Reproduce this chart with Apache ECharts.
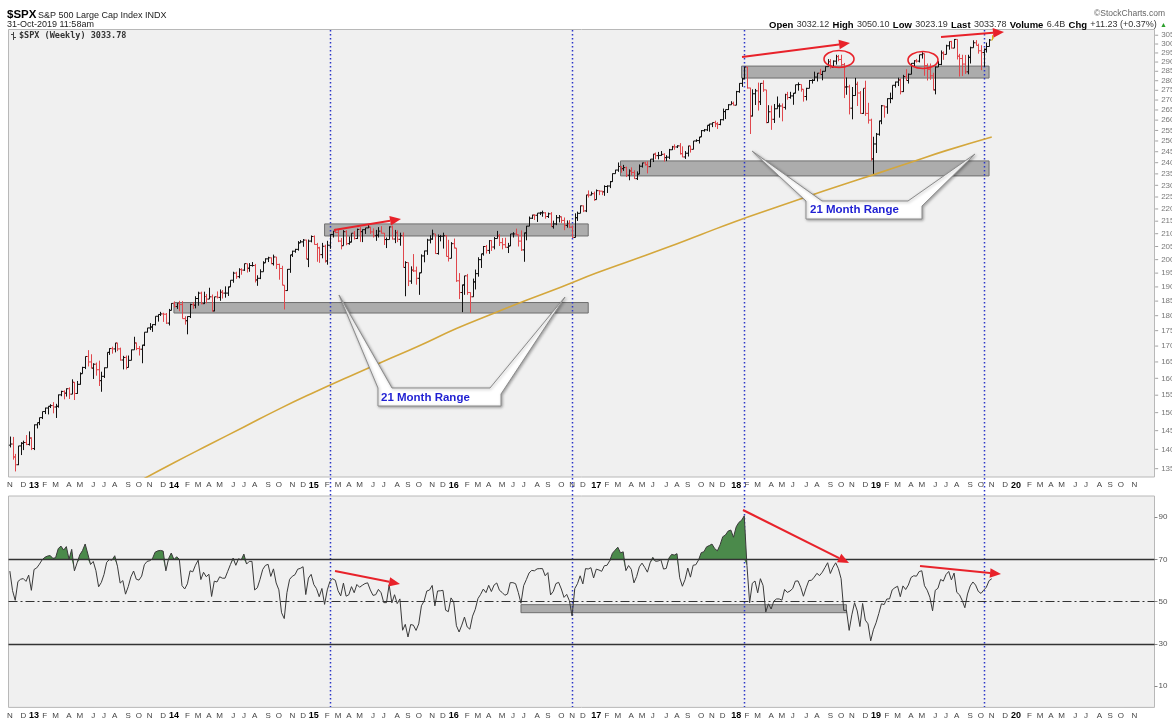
<!DOCTYPE html>
<html>
<head>
<meta charset="utf-8">
<script src="https://cdn.jsdelivr.net/npm/echarts@6/dist/echarts.min.js"></script>
<style>
html,body{margin:0;padding:0;background:#fff;}
#c{width:1172px;height:724px;}
</style>
</head>
<body>
<div id="c"></div>
<script>
// ---------------- DATA ----------------
const firstWeek = '2012-11-02';   // first weekly bar (week ending)
const weekSlots = 426;            // axis runs through Dec 2020
const monthLetters = ['J','F','M','A','M','J','J','A','S','O','N','D'];
const firstOpen = 1411;

// weekly closes, Nov 2012 .. Oct 31 2019
const weekClose = [
 1414,1380,1360,1409,1416,1418,1413,1430,1402,
 1466,1472,1486,1503,1513,1518,1520,1516,1518,1551,1561,1556,1569,1553,1588,1555,1582,1614,1633,1667,1650,1631,1643,1626,1593,1606,1632,1680,1692,1691,1710,1691,1656,1664,1633,1655,1688,1710,1692,1690,1703,1745,1759,1762,1770,1798,1804,1806,1805,1775,1818,1842,
 1831,1842,1838,1790,1783,1797,1838,1836,1859,1878,1841,1866,1857,1865,1816,1865,1863,1881,1878,1878,1900,1924,1950,1937,1963,1961,1985,1968,1978,1978,1925,1931,1955,1988,2003,2007,1985,2010,1982,1967,1906,1887,1964,2018,2032,2039,2064,2068,2075,2002,2071,2089,
 2058,2045,2019,2051,1995,2055,2097,2110,2105,2071,2053,2108,2061,2067,2102,2081,2117,2108,2116,2123,2126,2107,2092,2094,2110,2102,2077,2077,2127,2079,2104,2078,2092,1971,1989,1921,1961,1958,1931,1951,2014,2033,2075,2079,2099,2023,2089,2090,2092,2012,2005,2061,2044,
 1922,1880,1907,1940,1880,1865,1918,1948,2000,2022,2050,2035,2073,2048,2081,2092,2065,2057,2047,2052,2099,2099,2096,2071,2037,2103,2130,2162,2175,2174,2183,2184,2184,2169,2180,2128,2139,2164,2168,2153,2133,2141,2126,2085,2164,2182,2213,2192,2259,2258,2264,2239,
 2277,2275,2272,2295,2297,2316,2351,2367,2383,2373,2378,2344,2363,2356,2329,2349,2384,2399,2391,2382,2416,2439,2432,2433,2438,2423,2425,2459,2473,2472,2477,2441,2426,2443,2477,2461,2500,2502,2519,2549,2553,2575,2581,2588,2582,2579,2602,2642,2652,2676,2683,2674,
 2743,2786,2810,2873,2762,2620,2732,2747,2691,2786,2752,2588,2641,2604,2656,2670,2670,2663,2728,2713,2721,2735,2779,2780,2755,2718,2760,2801,2802,2819,2840,2833,2850,2875,2902,2872,2905,2930,2914,2886,2767,2768,2659,2723,2781,2736,2633,2760,2633,2600,2417,2486,
 2532,2596,2671,2665,2707,2708,2776,2793,2804,2743,2822,2801,2834,2893,2907,2905,2940,2946,2881,2860,2826,2752,2873,2887,2950,2942,2990,3014,2977,3026,2932,2919,2889,2847,2926,2979,3007,2992,2962,2952,2970,2986,3022.55,3033.78
];
const weekHigh = [
 1434,1433,1388,1409,1419,1423,1438,1448,1432,
 1467,1472,1486,1503,1514,1518,1524,1530,1525,1552,1563,1564,1570,1573,1597,1589,1592,1618,1635,1667,1687,1674,1646,1648,1654,1620,1633,1680,1693,1698,1710,1709,1695,1669,1670,1670,1689,1730,1711,1700,1704,1745,1759,1775,1771,1798,1804,1813,1810,1809,1823,1843,
 1849,1843,1851,1850,1798,1798,1841,1847,1867,1883,1883,1883,1875,1897,1873,1865,1884,1891,1889,1902,1901,1924,1955,1955,1968,1968,1985,1983,1987,1991,1984,1942,1964,1994,2005,2011,2008,2019,2007,1985,1977,1906,1965,2018,2034,2041,2071,2075,2079,2076,2077,2093,
 2093,2064,2049,2064,2057,2072,2097,2111,2119,2117,2083,2114,2114,2089,2102,2111,2120,2126,2117,2123,2134,2127,2121,2115,2126,2130,2103,2085,2129,2132,2115,2113,2104,2105,1994,1986,1975,2021,1974,1952,2020,2034,2080,2094,2116,2099,2097,2095,2104,2094,2076,2067,2081,
 2038,1950,1908,1940,1947,1881,1930,1963,2009,2022,2052,2056,2075,2075,2087,2111,2099,2083,2084,2064,2099,2106,2120,2095,2113,2104,2131,2169,2176,2178,2183,2188,2193,2187,2185,2187,2152,2175,2175,2169,2165,2153,2154,2133,2182,2189,2214,2214,2259,2278,2273,2273,
 2282,2279,2276,2300,2300,2319,2352,2368,2401,2383,2390,2382,2370,2379,2366,2361,2392,2400,2404,2406,2416,2440,2446,2449,2453,2443,2434,2463,2477,2484,2480,2490,2475,2453,2477,2475,2500,2508,2519,2552,2557,2575,2582,2588,2597,2590,2605,2657,2651,2679,2694,2692,
 2747,2787,2815,2873,2871,2763,2755,2757,2790,2787,2802,2752,2674,2672,2680,2718,2683,2683,2732,2742,2742,2736,2779,2791,2775,2755,2763,2804,2808,2848,2841,2863,2852,2876,2916,2916,2909,2940,2939,2940,2895,2817,2779,2767,2815,2795,2746,2760,2800,2686,2607,2520,
 2538,2597,2675,2672,2709,2738,2775,2795,2816,2812,2831,2861,2838,2894,2910,2917,2940,2954,2931,2892,2892,2842,2876,2905,2964,2959,2996,3014,3018,3028,3027,2945,2940,2939,2940,2985,3021,3022,3002,2993,2975,3008,3028,3050.10
];
const weekLow = [
 1405,1373,1343,1359,1385,1398,1411,1410,1398,
 1398,1456,1465,1482,1496,1495,1513,1498,1485,1514,1547,1538,1546,1539,1553,1536,1554,1581,1614,1628,1636,1630,1598,1608,1577,1560,1601,1632,1672,1676,1680,1684,1654,1627,1627,1633,1655,1689,1687,1670,1646,1700,1744,1752,1746,1767,1780,1799,1779,1772,1767,1819,
 1828,1823,1815,1790,1770,1738,1792,1823,1825,1834,1839,1840,1842,1863,1814,1815,1859,1851,1859,1862,1868,1900,1915,1929,1931,1944,1958,1952,1955,1974,1916,1904,1928,1955,1990,1991,1983,1978,1965,1926,1906,1821,1886,1951,2010,2026,2034,2064,2049,2002,1972,2066,
 2057,1992,1988,2005,1989,1981,2041,2085,2103,2067,2039,2061,2055,2057,2066,2077,2079,2068,2067,2099,2122,2099,2085,2072,2085,2101,2056,2044,2078,2077,2063,2067,2053,1971,1867,1903,1911,1954,1908,1872,1951,1990,2018,2062,2076,2022,2019,2070,2042,2012,1993,2005,2043,
 1918,1857,1812,1872,1872,1810,1871,1891,1937,1969,2015,2023,2022,2033,2039,2081,2052,2039,2045,2025,2052,2085,2095,2050,2033,1992,2074,2131,2159,2155,2147,2175,2168,2160,2163,2128,2120,2134,2145,2142,2114,2124,2122,2084,2097,2151,2189,2187,2187,2248,2257,2234,
 2245,2258,2258,2255,2267,2288,2315,2353,2359,2355,2363,2336,2322,2344,2328,2323,2375,2378,2387,2352,2380,2403,2416,2415,2431,2405,2407,2416,2458,2459,2467,2437,2425,2417,2428,2446,2474,2496,2488,2520,2544,2547,2544,2566,2566,2557,2575,2598,2605,2650,2676,2673,
 2683,2737,2768,2808,2759,2533,2618,2675,2647,2675,2742,2585,2594,2553,2586,2660,2612,2594,2652,2702,2707,2676,2734,2748,2743,2692,2698,2768,2785,2799,2796,2832,2802,2850,2884,2864,2874,2886,2904,2874,2710,2727,2628,2604,2722,2670,2631,2631,2621,2583,2409,2346,
 2444,2525,2580,2612,2631,2684,2703,2764,2772,2729,2741,2800,2785,2849,2873,2897,2898,2919,2826,2801,2805,2750,2729,2873,2883,2912,2964,2968,2975,2978,2914,2822,2825,2836,2834,2892,2979,2993,2946,2856,2874,2952,2992,3023.19
];
// weekly closes Jun-Oct 2012, only used to start the RSI
const priorCloses = [1278,1325,1343,1335,1362,1354,1357,1363,1386,1391,1406,1418,1411,1407,1438,1466,1460,1441,1461,1428,1433,1412];

// 200-week moving average
const maDates = ['2013-10-04','2014-01-03','2014-04-04','2014-07-04','2014-10-03','2015-01-02','2015-04-03','2015-07-03','2015-10-02','2016-01-08','2016-04-08','2016-07-08','2016-10-07','2017-01-06','2017-04-07','2017-07-07','2017-10-06','2018-01-05','2018-04-06','2018-07-06','2018-10-05','2019-01-04','2019-04-05','2019-07-05','2019-11-01'];
const maValues = [1318,1365,1412,1460,1510,1558,1605,1652,1700,1757,1805,1853,1900,1950,1997,2045,2097,2150,2200,2250,2300,2350,2402,2455,2519];

const priceTicks = [1350,1400,1450,1500,1550,1600,1650,1700,1750,1800,1850,1900,1950,2000,2050,2100,2150,2200,2250,2300,2350,2400,2450,2500,2550,2600,2650,2700,2750,2800,2850,2900,2950,3000,3050];
const rsiTicks = [10,30,50,70,90];

// trading ranges (price boxes)
const rangeFrom = ['2014-01-03','2015-01-30','2017-03-10','2018-01-19'];
const rangeTo   = ['2016-12-16','2016-12-16','2019-10-25','2019-10-25'];
const rangeLow  = [1809,2091,2341,2814];
const rangeHigh = [1845,2139,2408,2878];
const rsiRangeFrom = '2016-06-24', rsiRangeTo = '2018-10-19', rsiRangeLow = 44.8, rsiRangeHigh = 48.6;
const markerWeeks = ['2015-02-13','2016-11-04','2018-01-26','2019-10-11'];

// ---------------- BUILD ----------------
const cats = [];
{ const t0 = Date.parse(firstWeek + 'T00:00:00Z');
  for (let i = 0; i < weekSlots; i++) cats.push(new Date(t0 + i * 7 * 864e5).toISOString().slice(0, 10)); }
const monthStart = cats.map((c, i) => i === 0 || c.slice(5, 7) !== cats[i - 1].slice(5, 7));
const weekOpen = weekClose.map((c, i) => i ? weekClose[i - 1] : firstOpen);
const ohlc = weekClose.map((c, i) => [i, weekOpen[i], weekHigh[i], weekLow[i], c]);

function wilderRSI(arr, n) {
  let ag = 0, al = 0; const out = [null];
  for (let i = 1; i < arr.length; i++) {
    const d = arr[i] - arr[i - 1], g = Math.max(d, 0), l = Math.max(-d, 0);
    if (i <= n) { ag += g / n; al += l / n; } else { ag = (ag * (n - 1) + g) / n; al = (al * (n - 1) + l) / n; }
    out.push(i >= n ? (al === 0 ? 100 : 100 - 100 / (1 + ag / al)) : null);
  }
  return out;
}
const rsi = wilderRSI(priorCloses.concat(weekClose), 14).slice(priorCloses.length);

const FONT = 'Arial, "Liberation Sans", sans-serif';
const gridL = 8.5, gridW = 1146;

function xAxisFor(gi) {
  return {
    type: 'category', gridIndex: gi, data: cats, boundaryGap: true,
    axisLine: { show: false }, axisTick: { show: false }, splitLine: { show: false },
    axisLabel: {
      interval: (i) => monthStart[i], showMaxLabel: false, hideOverlap: false,
      margin: 4, fontSize: 8, color: '#444', fontFamily: FONT,
      formatter: (v) => { const m = +v.slice(5, 7); return m === 1 ? '{y|' + v.slice(2, 4) + '}' : monthLetters[m - 1]; },
      rich: { y: { fontWeight: 'bold', fontSize: 9, color: '#000', fontFamily: FONT } }
    }
  };
}

const chart = echarts.init(document.getElementById('c'), null, { renderer: 'canvas' });
chart.setOption({
  animation: false,
  backgroundColor: '#fff',
  textStyle: { fontFamily: FONT },
  grid: [
    { left: gridL, top: 29.5, width: gridW, height: 447.5, show: true, backgroundColor: '#f0f0f0', borderColor: '#b8b8b8', borderWidth: 1 },
    { left: gridL, top: 496, width: gridW, height: 211.4, show: true, backgroundColor: '#f0f0f0', borderColor: '#b8b8b8', borderWidth: 1 }
  ],
  xAxis: [xAxisFor(0), xAxisFor(1)],
  yAxis: [
    { type: 'log', logBase: 10, gridIndex: 0, min: 1329, max: 3083, position: 'right',
      axisLabel: { show: false }, axisTick: { show: false }, axisLine: { show: false }, splitLine: { show: false } },
    { type: 'value', gridIndex: 1, min: 0, max: 100, position: 'right',
      axisLine: { show: false }, splitLine: { show: false },
      axisTick: { show: true, customValues: rsiTicks, length: 3, lineStyle: { color: '#888' } },
      axisLabel: { customValues: rsiTicks, fontSize: 8, color: '#555', margin: 4 } }
  ],
  series: [
    { type: 'line', name: 'ranges', xAxisIndex: 0, yAxisIndex: 0, data: [], z: 1, silent: true,
      markArea: { silent: true, itemStyle: { color: 'rgba(160,160,160,0.85)', borderColor: '#6e6e6e', borderWidth: 1 },
        data: rangeFrom.map((f, i) => [{ xAxis: f, yAxis: rangeLow[i] }, { xAxis: rangeTo[i], yAxis: rangeHigh[i] }]) } },
    { type: 'custom', name: '$SPX', xAxisIndex: 0, yAxisIndex: 0, data: ohlc, z: 3, clip: true,
      encode: { x: 0, y: [1, 2, 3, 4] },
      renderItem: (params, api) => {
        const i = api.value(0), o = api.value(1), h = api.value(2), l = api.value(3), c = api.value(4);
        const x = Math.round(api.coord([i, c])[0]) + 0.5;
        const yh = api.coord([i, Math.max(h, o, c)])[1], yl = api.coord([i, Math.min(l, o, c)])[1];
        const yo = api.coord([i, o])[1], yc = api.coord([i, c])[1];
        let color = c >= o ? '#111' : '#e0474c';
        if (params.dataIndex === weekClose.length - 1) color = '#d9b10f';
        const st = { stroke: color, lineWidth: 1 };
        return { type: 'group', children: [
          { type: 'line', shape: { x1: x, y1: yh, x2: x, y2: yl }, style: st },
          { type: 'line', shape: { x1: x - 1.6, y1: yo, x2: x, y2: yo }, style: st },
          { type: 'line', shape: { x1: x, y1: yc, x2: x + 1.6, y2: yc }, style: st }
        ] };
      } },
    { type: 'line', name: 'MA200', xAxisIndex: 0, yAxisIndex: 0, z: 4, silent: true,
      data: maDates.map((d, i) => [d, maValues[i]]), smooth: 0.5, symbol: 'none', clip: true,
      lineStyle: { color: '#d4a73c', width: 1.6 } },
    { type: 'scatter', name: 'priceLabels', xAxisIndex: 0, yAxisIndex: 0, silent: true, clip: false, z: 5,
      data: priceTicks.map(v => [weekSlots - 1, v]),
      symbol: 'rect', symbolSize: [3, 1], symbolOffset: [3.5, 0], itemStyle: { color: '#888' },
      label: { show: true, position: 'right', distance: 3, formatter: p => p.value[1], fontSize: 8, color: '#555' } },
    // RSI panel
    { type: 'line', name: 'rsiRange', xAxisIndex: 1, yAxisIndex: 1, data: [], z: 1, silent: true,
      markArea: { silent: true, itemStyle: { color: 'rgba(160,160,160,0.85)', borderColor: '#6e6e6e', borderWidth: 1 },
        data: [[{ xAxis: rsiRangeFrom, yAxis: rsiRangeLow }, { xAxis: rsiRangeTo, yAxis: rsiRangeHigh }]] } },
    { type: 'line', name: 'rsiBase', xAxisIndex: 1, yAxisIndex: 1, stack: 'ob', symbol: 'none', silent: true, z: 2,
      data: rsi.map(v => Math.min(v, 70)), lineStyle: { width: 0, opacity: 0 } },
    { type: 'line', name: 'rsiOver', xAxisIndex: 1, yAxisIndex: 1, stack: 'ob', symbol: 'none', silent: true, z: 2,
      data: rsi.map(v => Math.max(v - 70, 0)), lineStyle: { width: 0, opacity: 0 },
      areaStyle: { color: '#4b8a4b', opacity: 1 } },
    { type: 'line', name: 'RSI(14)', xAxisIndex: 1, yAxisIndex: 1, symbol: 'none', silent: true, z: 4,
      data: rsi, lineStyle: { color: '#3a3a3a', width: 1 },
      markLine: { silent: true, symbol: 'none', label: { show: false },
        lineStyle: { color: '#333', width: 1.4 },
        data: [ { yAxis: 70, lineStyle: { type: 'solid' } }, { yAxis: 30, lineStyle: { type: 'solid' } },
                { yAxis: 50, lineStyle: { type: [9, 3, 2, 3], width: 1.1 } } ] } }
  ]
});

// ---------------- ANNOTATIONS ----------------
function arrow(x1, y1, x2, y2) {
  const a = Math.atan2(y2 - y1, x2 - x1), L = 11, W = 4.8;
  const bx = x2 - L * Math.cos(a), by = y2 - L * Math.sin(a);
  const px = -Math.sin(a) * W, py = Math.cos(a) * W;
  return [
    { type: 'line', z: 20, silent: true, shape: { x1: x1, y1: y1, x2: bx, y2: by }, style: { stroke: '#e8222a', lineWidth: 2 } },
    { type: 'polygon', z: 20, silent: true, shape: { points: [[x2, y2], [bx + px, by + py], [bx - px, by - py]] }, style: { fill: '#e8222a' } }
  ];
}
function callout(points, tx, ty) {
  return [
    { type: 'polygon', z: 18, silent: true, shape: { points: points },
      style: { fill: '#ffffff', stroke: '#8c8c8c', lineWidth: 1, shadowBlur: 3, shadowColor: 'rgba(0,0,0,0.35)', shadowOffsetX: 1, shadowOffsetY: 1 } },
    { type: 'text', z: 19, silent: true, style: { text: '21 Month Range', x: tx, y: ty, font: 'bold 11.5px ' + FONT, fill: '#1f1fd2', verticalAlign: 'middle' } }
  ];
}
const g = [];
markerWeeks.forEach(d => {
  const x = Math.round(chart.convertToPixel({ xAxisIndex: 0 }, d)) + 0.5;
  g.push({ type: 'line', z: 1, silent: true, shape: { x1: x, y1: 30, x2: x, y2: 707 }, style: { stroke: '#2a35c8', lineWidth: 1.5, lineDash: [1.5, 2.5] } });
});
g.push(...callout([[378,388],[339,295],[392,388],[490,388],[565,297],[501,394],[501,406],[378,406]], 381, 397.5));
g.push(...callout([[806,201],[752,151],[822,201],[908,201],[975,154],[922,206],[922,219],[806,219]], 810, 210));
g.push(...arrow(334, 230, 401, 219));
g.push(...arrow(742, 57, 850, 43));
g.push(...arrow(941, 37, 1004, 32));
g.push(...arrow(335, 571, 400, 584));
g.push(...arrow(743, 510, 849, 563));
g.push(...arrow(920, 566, 1001, 574));
g.push({ type: 'ellipse', z: 20, silent: true, shape: { cx: 839, cy: 59, rx: 15, ry: 8.5 }, style: { fill: 'none', stroke: '#e8222a', lineWidth: 1.6 } });
g.push({ type: 'ellipse', z: 20, silent: true, shape: { cx: 923, cy: 60, rx: 15, ry: 8.5 }, style: { fill: 'none', stroke: '#e8222a', lineWidth: 1.6 } });
// header
g.push({ type: 'text', z: 20, silent: true, style: { text: '$SPX', x: 7, y: 15, font: 'bold 11.5px ' + FONT, fill: '#000', verticalAlign: 'middle' } });
g.push({ type: 'text', z: 20, silent: true, style: { text: 'S&P 500 Large Cap Index INDX', x: 38, y: 15.5, font: '9px ' + FONT, fill: '#222', verticalAlign: 'middle' } });
g.push({ type: 'text', z: 20, silent: true, style: { text: '31-Oct-2019 11:58am', x: 7, y: 25, font: '9px ' + FONT, fill: '#222', verticalAlign: 'middle' } });
g.push({ type: 'text', z: 20, silent: true, style: { text: '©StockCharts.com', x: 1165, y: 14, font: '8.5px ' + FONT, fill: '#666', align: 'right', verticalAlign: 'middle' } });
g.push({ type: 'text', z: 20, silent: true, style: {
  text: '{b|Open} {n|3032.12} {b|High} {n|3050.10} {b|Low} {n|3023.19} {b|Last} {n|3033.78} {b|Volume} {n|6.4B} {b|Chg} {n|+11.23 (+0.37%)} {t|▲}',
  x: 1167, y: 25, align: 'right', verticalAlign: 'middle',
  rich: { b: { font: 'bold 9.5px ' + FONT, fill: '#000' }, n: { font: '9px ' + FONT, fill: '#333' }, t: { font: '7px ' + FONT, fill: '#2ca02c' } } } });
// legend inside price panel
g.push({ type: 'line', z: 20, silent: true, shape: { x1: 13.5, y1: 32, x2: 13.5, y2: 40 }, style: { stroke: '#444', lineWidth: 1 } });
g.push({ type: 'line', z: 20, silent: true, shape: { x1: 11, y1: 34.5, x2: 13.5, y2: 34.5 }, style: { stroke: '#444', lineWidth: 1 } });
g.push({ type: 'line', z: 20, silent: true, shape: { x1: 13.5, y1: 37.5, x2: 16, y2: 37.5 }, style: { stroke: '#444', lineWidth: 1 } });
g.push({ type: 'text', z: 20, silent: true, style: { text: '$SPX (Weekly) 3033.78', x: 19, y: 36, font: 'bold 8.5px "DejaVu Sans Mono", monospace', fill: '#333', verticalAlign: 'middle' } });
chart.setOption({ graphic: { elements: g } });
</script>
</body>
</html>
